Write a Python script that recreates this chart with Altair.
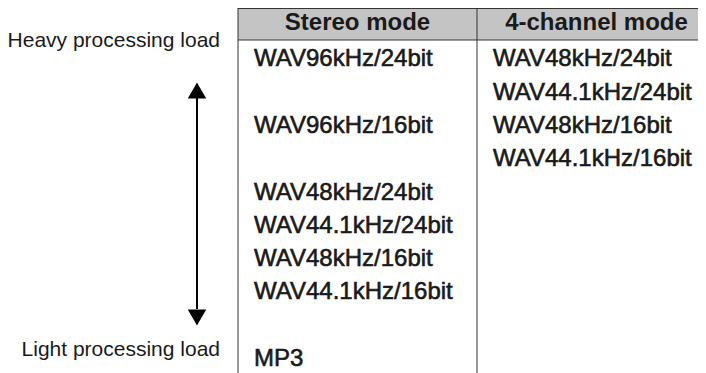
import altair as alt
import pandas as pd

# ---- data -------------------------------------------------------------
modes = ["Stereo mode", "4-channel mode"]
mode_col = [0, 1]

stereo_formats = ["WAV96kHz/24bit", "WAV96kHz/16bit", "WAV48kHz/24bit",
                  "WAV44.1kHz/24bit", "WAV48kHz/16bit", "WAV44.1kHz/16bit", "MP3"]
stereo_load_rank = [0, 2, 4, 5, 6, 7, 9]

four_ch_formats = ["WAV48kHz/24bit", "WAV44.1kHz/24bit",
                   "WAV48kHz/16bit", "WAV44.1kHz/16bit"]
four_ch_load_rank = [0, 1, 2, 3]

load_labels = ["Heavy processing load", "Light processing load"]

# ---- tables built from the lists ---------------------------------------
cells = pd.DataFrame({
    "mode": [modes[0]] * len(stereo_formats) + [modes[1]] * len(four_ch_formats),
    "col": [mode_col[0]] * len(stereo_formats) + [mode_col[1]] * len(four_ch_formats),
    "format": stereo_formats + four_ch_formats,
    "rank": stereo_load_rank + four_ch_load_rank,
})
headers = pd.DataFrame({"mode": modes, "col": mode_col})
band = pd.DataFrame({"col": [mode_col[0]], "end": [mode_col[-1] + 1]})

FONT = "Liberation Sans"
INK = "#1a1a1a"
X_SCALE = alt.Scale(domain=[0, 1], range=[230, 469])
Y_SCALE = alt.Scale(domain=[0, 9], range=[50, 349.7])

xcol = alt.X("col:Q", scale=X_SCALE, axis=None)

header_band = alt.Chart(band).mark_rect(fill="#c4c4c4").encode(
    x=xcol, x2="end:Q", y=alt.value(0.5), y2=alt.value(32)
)
top_line = alt.Chart(band).mark_rule(color="#333333", strokeWidth=1).encode(
    x=xcol, x2="end:Q", y=alt.value(0.5)
)
header_line = alt.Chart(band).mark_rule(color="#333333", strokeWidth=1).encode(
    x=xcol, x2="end:Q", y=alt.value(32)
)
col_lines = alt.Chart(headers).mark_rule(color="#333333", strokeWidth=1).encode(
    x=xcol, y=alt.value(0), y2=alt.value(365)
)
header_text = alt.Chart(headers).transform_calculate(
    mid="datum.col + 0.5"
).mark_text(font=FONT, fontSize=24, fontWeight="bold", align="center",
            baseline="alphabetic", color=INK).encode(
    x=alt.X("mid:Q", scale=X_SCALE, axis=None), y=alt.value(22), text="mode:N"
)
cell_text = alt.Chart(cells).mark_text(
    font=FONT, fontSize=24, align="left", baseline="alphabetic",
    dx=16, dy=8.3, color=INK, stroke=INK, strokeWidth=0.6
).encode(
    x=xcol, y=alt.Y("rank:Q", scale=Y_SCALE, axis=None), text="format:N"
)

# ---- load arrow and labels ---------------------------------------------
lab = pd.DataFrame({"label": load_labels})
heavy = alt.Chart(lab).transform_filter(f"datum.label == '{load_labels[0]}'").mark_text(
    font=FONT, fontSize=21, align="right", baseline="alphabetic", color=INK
).encode(x=alt.value(212), y=alt.value(39), text="label:N")
light = alt.Chart(lab).transform_filter(f"datum.label == '{load_labels[1]}'").mark_text(
    font=FONT, fontSize=21, align="right", baseline="alphabetic", color=INK
).encode(x=alt.value(212), y=alt.value(347.7), text="label:N")

shaft = alt.Chart(lab).transform_filter(f"datum.label == '{load_labels[0]}'").mark_rule(
    color="#000000", strokeWidth=2
).encode(x=alt.value(189), y=alt.value(90), y2=alt.value(301))
head_up = alt.Chart(lab).transform_filter(f"datum.label == '{load_labels[0]}'").mark_point(
    shape="triangle-up", filled=True, size=340, color="#000000", opacity=1
).encode(x=alt.value(189), y=alt.value(82.5))
head_down = alt.Chart(lab).transform_filter(f"datum.label == '{load_labels[1]}'").mark_point(
    shape="triangle-down", filled=True, size=340, color="#000000", opacity=1
).encode(x=alt.value(189), y=alt.value(309.5))

chart = alt.layer(
    header_band, top_line, header_line, col_lines, header_text, cell_text,
    heavy, light, shaft, head_up, head_down
).properties(
    width=690, height=365, padding=0, autosize="none"
).configure_view(stroke=None)

chart.save("out.html", embed_options={"renderer": "svg", "actions": False})
